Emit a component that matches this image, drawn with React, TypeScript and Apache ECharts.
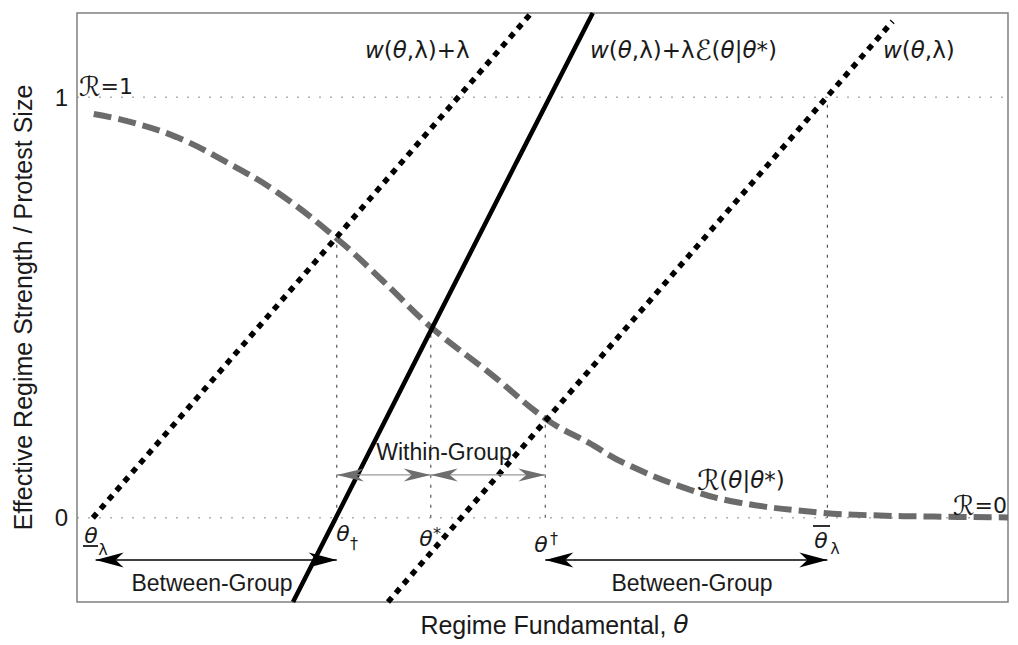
import React, { useEffect, useRef } from "react";
import * as echarts from "echarts";

// ---- axis ranges ----
const X_MIN = 0;
const X_MAX = 10;
const Y_MIN = -0.2;
const Y_MAX = 1.2;
const yTickValues = [0, 1];

// ---- curves ----
const wPlusLambdaX = [0.17, 4.88];
const wPlusLambdaY = [0, 1.2];
const wThetaX = [3.34, 8.76];
const wThetaY = [-0.2, 1.18];
const solidX = [2.32, 2.78, 3.8, 4.72, 5.54];
const solidY = [-0.2, 0, 0.445, 0.845, 1.2];
const rX = [0.18, 0.54, 1.07, 1.61, 2.15, 2.79, 3.3, 3.81, 4.44, 5.05, 5.5, 5.87, 6.58, 7.12, 8.01, 8.55, 9.2, 10];
const rY = [0.96, 0.943, 0.905, 0.845, 0.774, 0.664, 0.56, 0.452, 0.343, 0.233, 0.178, 0.131, 0.067, 0.036, 0.012, 0.006, 0.003, 0.001];

// ---- reference levels and guides ----
const refLevels = [0, 1];
const guideX = [2.79, 3.8, 5.03, 8.06];
const guideTop = [0.664, 0.452, 0.233, 1];

// ---- arrows ----
const withinFrom = [2.79, 3.8];
const withinTo = [3.8, 5.03];
const withinY = 0.102;
const betweenFrom = [0.2, 5.03];
const betweenTo = [2.79, 8.06];
const betweenY = -0.1;

const SANS = "'Liberation Sans', Arial, sans-serif";
const MATH = "'DejaVu Sans', 'Liberation Sans', sans-serif";
const INK = "#1a1a1a";

function mathText(x: number, y: number, text: string, size: number, align = "left") {
  return {
    type: "text",
    x,
    y,
    silent: true,
    z: 50,
    style: {
      text,
      fontSize: size,
      fontFamily: MATH,
      fill: INK,
      align,
      verticalAlign: "middle",
      textAlign: align,
      textVerticalAlign: "middle",
      rich: {
        i: { fontStyle: "italic", fontSize: size, fontFamily: MATH, fill: INK },
        s: { fontSize: size + 5, fontFamily: MATH, fill: INK },
      },
    },
  };
}

function plainText(x: number, y: number, text: string, size: number, italic = false, family = SANS) {
  return {
    type: "text",
    x,
    y,
    silent: true,
    z: 50,
    style: {
      text,
      fontSize: size,
      fontFamily: italic ? MATH : family,
      fontStyle: italic ? "italic" : "normal",
      fill: INK,
      align: "center",
      verticalAlign: "middle",
      textAlign: "center",
      textVerticalAlign: "middle",
    },
  };
}

function arrowRender(lineColor: string, headColor: string, lw: number, L: number, h: number, notch: number) {
  return (params: any, api: any) => {
    const p1 = api.coord([api.value(0), api.value(2)]);
    const p2 = api.coord([api.value(1), api.value(2)]);
    const head = (tip: number[], dir: number) => [
      [tip[0], tip[1]],
      [tip[0] + dir * L, tip[1] - h],
      [tip[0] + dir * (L - notch), tip[1]],
      [tip[0] + dir * L, tip[1] + h],
    ];
    return {
      type: "group",
      children: [
        { type: "line", shape: { x1: p1[0], y1: p1[1], x2: p2[0], y2: p2[1] }, style: { stroke: lineColor, lineWidth: lw } },
        { type: "polygon", shape: { points: head(p1, 1) }, style: { fill: headColor } },
        { type: "polygon", shape: { points: head(p2, -1) }, style: { fill: headColor } },
      ],
    };
  };
}

const zip = (xs: number[], ys: number[]) => xs.map((x, i) => [x, ys[i]]);

export default function App() {
  const ref = useRef<HTMLDivElement>(null);
  useEffect(() => {
    if (!ref.current) return;
    const chart = echarts.init(ref.current, null, { renderer: "svg" });

    const series: any[] = [];
    refLevels.forEach((l) =>
      series.push({
        type: "line",
        data: [[X_MIN, l], [X_MAX, l]],
        symbol: "none",
        silent: true,
        z: 1,
        lineStyle: { color: "#8a8a8a", width: 1, type: [2, 9] },
      })
    );
    guideX.forEach((x, i) =>
      series.push({
        type: "line",
        data: [[x, 0], [x, guideTop[i]]],
        symbol: "none",
        silent: true,
        z: 1,
        lineStyle: { color: "#555", width: 1.2, type: [3, 7] },
      })
    );
    series.push({
      type: "line",
      name: "R(θ|θ*)",
      data: zip(rX, rY),
      symbol: "none",
      smooth: 0.4,
      z: 2,
      lineStyle: { color: "#6b6b6b", width: 6, type: [18, 7], cap: "butt" },
    });
    series.push({
      type: "line",
      name: "w(θ,λ)+λ",
      data: zip(wPlusLambdaX, wPlusLambdaY),
      symbol: "none",
      z: 3,
      lineStyle: { color: "#000", width: 5.5, type: [6, 6], cap: "butt" },
    });
    series.push({
      type: "line",
      name: "w(θ,λ)",
      data: zip(wThetaX, wThetaY),
      symbol: "none",
      z: 3,
      lineStyle: { color: "#000", width: 5.5, type: [6, 6], cap: "butt" },
    });
    series.push({
      type: "line",
      name: "w(θ,λ)+λℰ(θ|θ*)",
      data: zip(solidX, solidY),
      symbol: "none",
      z: 4,
      lineStyle: { color: "#000", width: 4.5 },
    });
    series.push({
      type: "custom",
      silent: true,
      z: 5,
      renderItem: arrowRender("#9a9a9a", "#6e6e6e", 1.2, 27, 6.5, 8),
      data: withinFrom.map((f, i) => [f, withinTo[i], withinY]),
    });
    series.push({
      type: "custom",
      silent: true,
      z: 5,
      renderItem: arrowRender("#000", "#000", 1.6, 28, 7.5, 8),
      data: betweenFrom.map((f, i) => [f, betweenTo[i], betweenY]),
    });

    const graphics: any[] = [
      mathText(365, 50, "{i|w}({i|θ},λ)+λ", 23),
      mathText(590, 50, "{i|w}({i|θ},λ)+λ{s|ℰ}({i|θ}|{i|θ}*)", 23),
      mathText(883, 50, "{i|w}({i|θ},λ)", 23),
      mathText(79, 86, "{s|ℛ}=1", 22),
      mathText(697, 480, "{s|ℛ}({i|θ}|{i|θ}*)", 23),
      mathText(1007, 505, "{s|ℛ}=0", 22, "right"),
      // θ_λ (underlined)
      plainText(91, 535, "θ", 22, true),
      { type: "line", silent: true, z: 50, shape: { x1: 83, y1: 546, x2: 98, y2: 546 }, style: { stroke: INK, lineWidth: 1.8 } },
      plainText(103, 549, "λ", 16, false, MATH),
      // θ_†
      plainText(343, 533, "θ", 22, true),
      plainText(354, 543, "†", 16, false, MATH),
      // θ*
      plainText(426, 538, "θ", 22, true),
      plainText(437, 533, "*", 16, false, MATH),
      // θ^†
      plainText(541, 544, "θ", 22, true),
      plainText(554, 538, "†", 16, false, MATH),
      // θ̄_λ (overlined)
      { type: "line", silent: true, z: 50, shape: { x1: 813, y1: 526, x2: 830, y2: 526 }, style: { stroke: INK, lineWidth: 1.8 } },
      plainText(821, 540, "θ", 22, true),
      plainText(835, 548, "λ", 16, false, MATH),
      // group labels
      plainText(444, 452, "Within-Group", 23),
      plainText(212, 583, "Between-Group", 23),
      plainText(692, 583, "Between-Group", 23),
    ];

    chart.setOption({
      animation: false,
      backgroundColor: "#fff",
      grid: { left: 77, right: 10, top: 13, bottom: 43, show: true, borderColor: "#808080", borderWidth: 1.5 },
      xAxis: {
        type: "value",
        min: X_MIN,
        max: X_MAX,
        name: "Regime Fundamental, {i|θ}",
        nameLocation: "middle",
        nameGap: 10,
        nameTextStyle: {
          fontSize: 25,
          fontFamily: SANS,
          color: INK,
          verticalAlign: "top",
          padding: [0, 0, 0, 24],
          rich: { i: { fontSize: 25, fontFamily: MATH, fontStyle: "italic", color: INK } },
        },
        axisLine: { show: false },
        axisTick: { show: false },
        axisLabel: { show: false },
        splitLine: { show: false },
      },
      yAxis: {
        type: "value",
        min: Y_MIN,
        max: Y_MAX,
        interval: 0.2,
        name: "Effective Regime Strength / Protest Size",
        nameLocation: "middle",
        nameGap: 42,
        nameTextStyle: { fontSize: 25, fontFamily: SANS, color: INK },
        axisLine: { show: false },
        axisTick: { show: false },
        splitLine: { show: false },
        axisLabel: {
          fontSize: 24,
          fontFamily: SANS,
          color: INK,
          margin: 9,
          formatter: (v: number) => {
            const hit = yTickValues.find((t) => Math.abs(t - v) < 1e-6);
            return hit === undefined ? "" : String(hit);
          },
        },
      },
      series,
      graphic: graphics,
    });

    return () => chart.dispose();
  }, []);

  return (
    <div
      ref={ref}
      style={{ position: "fixed", left: 0, top: 0, width: 1018, height: 645, background: "#fff" }}
    />
  );
}
